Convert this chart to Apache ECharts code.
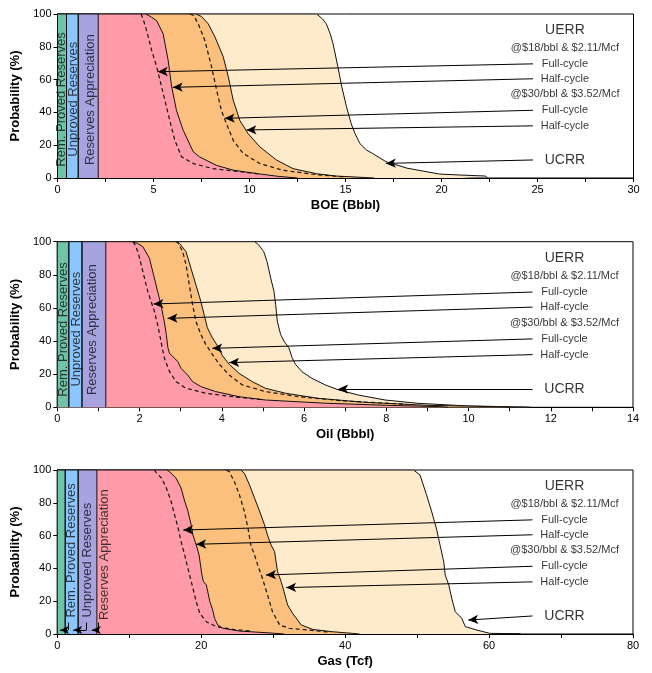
<!DOCTYPE html>
<html><head><meta charset="utf-8">
<script src="https://cdn.jsdelivr.net/npm/echarts@6.0.0/dist/echarts.min.js"></script>
<style>html,body{margin:0;padding:0;background:#fff}#c{width:652px;height:673px}</style>
</head><body><div id="c"></div>
<script>
// ---------- DATA ----------
// Panel 1: BOE (Bbbl)
const boeUCRR = [[0,100],[13.5,100],[13.8,97],[14.0,94],[14.2,88],[14.35,82],[14.6,68],[14.8,56],[15.05,43.5],[15.3,33],[15.5,27],[15.75,21],[16.1,17],[16.4,15],[17.1,10],[18.2,6],[19.9,2.4],[21,1.8],[22.3,1.2],[22.4,0]];
const boeHalf30 = [[0,100],[7.2,100],[7.5,98.5],[7.85,94],[8.2,86],[8.63,74],[8.89,62],[9.15,47.5],[9.5,35],[9.93,27],[10.54,19],[11.4,11],[12.27,5.7],[13.5,2.6],[14.5,1.2],[16,0.3],[16.5,0]];
const boeFull30 = [[6.9,100],[7.1,99],[7.33,94],[7.67,84],[8.02,68],[8.28,54],[8.54,41],[8.8,33],[9.15,23],[9.67,15],[10.54,8.8],[11.75,4.7],[13.5,2],[15,0.6]];
const boeHalf18 = [[0,100],[4.6,100],[4.9,98],[5.16,96],[5.5,88],[5.76,72],[5.94,56],[6.2,41],[6.55,29],[7.07,16],[7.41,12.8],[8.28,7.7],[9.15,4.8],[10.5,2.5],[11.5,1],[12.5,0]];
const boeFull18 = [[4.35,100],[4.46,97],[4.64,90],[4.9,78],[5.16,68],[5.33,60],[5.59,47.5],[5.85,35],[6.11,23],[6.46,13],[7.07,8.8],[8.1,5.7],[9.15,4.3],[10.5,2.5]];
const boeBands = [0, 0.47, 1.08, 2.12];
const boeTicks = {max: 30, step: 2.5, labelEvery: 5};

// Panel 2: Oil (Bbbl)
const oilUCRR = [[0,100],[4.8,100],[4.9,98],[5.02,94],[5.1,88],[5.19,78],[5.27,70],[5.31,62],[5.35,52],[5.43,44],[5.51,40],[5.63,36],[5.71,30],[5.79,26],[5.95,21.5],[6.19,17.5],[6.52,13.5],[6.84,10.5],[7.32,7.4],[7.97,4.4],[8.77,2.4],[10,0.8],[11.4,0.2],[11.5,0]];
const oilHalf30 = [[0,100],[2.9,100],[2.97,99],[3.13,94],[3.25,84],[3.37,74],[3.49,64],[3.57,56],[3.65,48],[3.77,42],[3.9,37],[4.02,31],[4.18,26],[4.42,20.5],[4.74,15.5],[5.06,11.5],[5.55,8.5],[6.35,5.4],[7.5,3],[9,1.2],[10.8,0.3],[11,0]];
const oilFull30 = [[2.88,100],[2.93,99.5],[3.05,94],[3.13,86],[3.21,74],[3.29,62],[3.37,52],[3.49,44],[3.61,38],[3.77,32],[3.94,26],[4.18,19.5],[4.5,13.5],[5.06,9.5],[5.87,6.4],[7,3.8],[8.5,1.8]];
const oilHalf18 = [[0,100],[1.8,100],[1.95,99],[2.08,97],[2.24,90],[2.34,80],[2.44,70],[2.52,62],[2.6,52],[2.65,44],[2.69,36],[2.73,32.6],[2.93,27.6],[3.01,23.5],[3.17,19.5],[3.29,15.5],[3.49,12.5],[3.85,9.5],[4.42,6.4],[5.06,4.4],[6.5,2.5],[8,1.2],[9.3,0.4],[9.5,0]];
const oilFull18 = [[1.85,100],[1.88,99],[1.96,94],[2.04,86],[2.12,78],[2.2,70],[2.28,64],[2.36,58],[2.44,50],[2.52,40],[2.6,30],[2.73,21.5],[2.89,15.5],[3.13,11.5],[3.61,8.5],[4.26,6.4],[5,4.6]];
const oilBands = [0, 0.28, 0.6, 1.18];
const oilTicks = {max: 14, step: 1, labelEvery: 2};

// Panel 3: Gas (Tcf)
const gasUCRR = [[0,100],[49.5,100],[50.4,97],[51.3,85],[52,75],[52.7,64],[53.2,54],[53.7,44],[53.9,36],[54.4,30],[54.8,22],[55.3,13.6],[56.2,9.6],[56.7,4.5],[58.3,2.4],[60.1,0.4],[64.3,0.2],[64.4,0]];
const gasHalf30 = [[0,100],[25.5,100],[26,98],[26.7,91],[27.4,83],[28.1,75],[28.8,66.5],[29.2,60.4],[29.7,54.3],[30.2,50.2],[30.4,44],[30.6,38],[31.1,32],[31.5,26],[32,17.7],[32.7,12.6],[33.9,5.5],[35.5,2.8],[38.2,1.4],[41,0.4],[42,0]];
const gasFull30 = [[23.5,100],[23.9,99],[24.6,93],[25.3,85],[26,74.6],[26.5,64.4],[26.9,54.3],[27.4,48.2],[27.85,42],[28.5,34],[29.2,24],[29.9,13.6],[30.9,5.5],[32.2,3.5],[35.9,2],[38,1]];
const gasHalf18 = [[0,100],[15.2,100],[15.6,99],[16.5,95],[17.2,89],[17.7,81],[18.15,75],[18.6,66.5],[18.85,60.4],[19.3,54.3],[19.7,48.2],[19.9,42],[20.1,36],[20.3,32],[20.7,30],[20.9,26],[21.2,19.7],[21.6,14.6],[21.85,9.6],[22.3,5.5],[23,3.5],[25.3,1.8],[29,0.8],[31,0.2],[31.5,0]];
const gasFull18 = [[13.5,100],[13.8,98],[14.5,95],[15.15,89],[15.8,81],[16.3,72.6],[16.8,64.4],[17.2,56.3],[17.7,48.2],[18.15,40],[18.5,34],[18.85,27.8],[19.3,19.7],[19.8,12.6],[20.7,7.5],[22.1,4.5],[24.4,2.8],[27,1.8]];
const gasBands = [0, 1.1, 2.9, 5.5];
const gasTicks = {max: 80, step: 10, labelEvery: 20};

// Annotation texts (right side) and their probability positions
const noteTexts = ['UERR', '@$18/bbl & $2.11/Mcf', 'Full-cycle', 'Half-cycle', '@$30/bbl & $3.52/Mcf', 'Full-cycle', 'Half-cycle', 'UCRR'];
const noteY = [90, 79.2, 69.6, 60.5, 51.1, 41.3, 31.8, 11];
const noteSizes = [14, 11, 11, 11, 11, 11, 11, 14];
// arrows: [label y, tip x, tip y] for Full18, Half18, Full30, Half30, UCRR
const boeArrows = [[69.6,5.22,64.8],[60.5,6.0,55.3],[41.3,8.71,36.4],[31.8,9.84,29.3],[11,17.1,8.9]];
const oilArrows = [[69.6,2.34,62.4],[60.5,2.68,53.7],[41.3,3.77,35.6],[31.8,4.18,27],[11,6.83,11]];
const gasArrows = [[69.6,17.5,63.4],[60.5,19.3,54.7],[41.3,29,36],[31.8,31.8,28.3],[11,57.1,8.5]];

const bandNames = ['Rem. Proved Reserves', 'Unproved Reserves', 'Reserves Appreciation'];
const boeBandText = [[0.23,6.9],[0.81,13],[1.72,7.9]];
const oilBandText = [[0.16,6.4],[0.47,12.5],[0.85,7.4]];
const gasBandText = [[1.95,10],[4.2,10],[6.5,8.5]];
// gas reserve pointers: [tail x, tip x]
const gasBandArrows = [[1.5,0.37],[4.0,2.2],[5.7,4.8]];

const xNames = ['BOE (Bbbl)', 'Oil (Bbbl)', 'Gas (Tcf)'];
const yName = 'Probability (%)';

// ---------- STYLE ----------
const C = {teal:'#6fc3a6', blue:'#8cc6ff', lav:'#a7a2e0', pink:'#ff9ba8', orange:'#fcc07e', cream:'#feebcc'};
const FONT = 'Liberation Sans, Arial, sans-serif';
const grids = [
  {left:57.5, right:18.5, top:14, height:164},
  {left:57.3, right:19, top:241.7, height:165.6},
  {left:57.3, right:19, top:470, height:164}
];

const panels = [
  {ucrr:boeUCRR, h30:boeHalf30, f30:boeFull30, h18:boeHalf18, f18:boeFull18, bands:boeBands, ticks:boeTicks, arrows:boeArrows, bandText:boeBandText},
  {ucrr:oilUCRR, h30:oilHalf30, f30:oilFull30, h18:oilHalf18, f18:oilFull18, bands:oilBands, ticks:oilTicks, arrows:oilArrows, bandText:oilBandText},
  {ucrr:gasUCRR, h30:gasHalf30, f30:gasFull30, h18:gasHalf18, f18:gasFull18, bands:gasBands, ticks:gasTicks, arrows:gasArrows, bandText:gasBandText}
];

const xAxes = [], yAxes = [], series = [];
panels.forEach((p, i) => {
  const t = p.ticks;
  xAxes.push({
    type:'value', gridIndex:i, min:0, max:t.max, interval:t.step,
    name:xNames[i], nameLocation:'middle', nameGap:21,
    nameTextStyle:{fontFamily:FONT, fontWeight:'bold', fontSize:13, color:'#000'},
    axisLine:{show:true, onZero:false, lineStyle:{color:'#000', width:1}},
    axisTick:{show:true, length:4, lineStyle:{color:'#000'}},
    axisLabel:{fontFamily:FONT, fontSize:11, color:'#000', margin:6,
      formatter:v => (Math.abs(v / t.labelEvery - Math.round(v / t.labelEvery)) < 1e-6 ? String(v) : '')},
    splitLine:{show:false}
  });
  yAxes.push({
    type:'value', gridIndex:i, min:0, max:100, interval:20,
    name:yName, nameLocation:'middle', nameGap:30,
    nameTextStyle:{fontFamily:FONT, fontWeight:'bold', fontSize:13, color:'#000'},
    axisLine:{show:true, lineStyle:{color:'#000', width:1}},
    axisTick:{show:true, length:4, lineStyle:{color:'#000'}},
    axisLabel:{fontFamily:FONT, fontSize:11, color:'#000', margin:6},
    splitLine:{show:false}
  });
  const base = {xAxisIndex:i, yAxisIndex:i, symbol:'none', animation:false, silent:true};
  const area = (data, color, z) => Object.assign({}, base, {type:'line', data, z,
    lineStyle:{color:'#111', width:1}, areaStyle:{color, opacity:1}});
  series.push(area(p.ucrr, C.cream, 1));
  series.push(area(p.h30, C.orange, 2));
  series.push(area(p.h18, C.pink, 3));
  const bc = [C.teal, C.blue, C.lav];
  for (let k = 0; k < 3; k++) {
    const x0 = p.bands[k], x1 = p.bands[k+1];
    series.push(Object.assign({}, base, {type:'line', z:4,
      data:[[x0,0],[x0,100],[x1,100],[x1,0]],
      lineStyle:{color:'#111', width:1}, areaStyle:{color:bc[k], opacity:1}}));
  }
  const dashed = data => Object.assign({}, base, {type:'line', data, z:5,
    lineStyle:{color:'#111', width:1.2, type:[4,3]}});
  series.push(dashed(p.f30));
  series.push(dashed(p.f18));

  // right-side annotation texts + arrows
  const xr = t.max * 0.881;
  const xs = t.max * 0.8255;
  const texts = noteTexts.map((s, k) => ({name:s, value:[xr, noteY[k]],
    label:{fontSize:noteSizes[k]}}));
  const arrowLines = p.arrows.map(a => [{coord:[xs, a[0]], symbol:'none'}, {coord:[a[1], a[2]], symbol:'arrow', symbolSize:[7,10]}]);
  if (i === 2) {
    gasBandArrows.forEach(a => {
      arrowLines.push([{coord:[a[0], 2.4], symbol:'none'}, {coord:[a[1], 2.4], symbol:'arrow', symbolSize:[6,9]}]);
      arrowLines.push([{coord:[a[0], 2.4], symbol:'none'}, {coord:[a[0], 7], symbol:'none'}]);
    });
  }
  series.push(Object.assign({}, base, {type:'scatter', z:7, symbol:'circle', symbolSize:1,
    itemStyle:{color:'rgba(0,0,0,0)'},
    label:{show:true, position:'inside', formatter:d => d.name, color:'#000', fontFamily:FONT},
    data:texts,
    markLine:{silent:true, animation:false, symbol:['none','arrow'], label:{show:false},
      lineStyle:{color:'#000', width:1, type:'solid'}, data:arrowLines}
  }));
  // rotated reserve labels
  series.push(Object.assign({}, base, {type:'scatter', z:8, symbol:'circle', symbolSize:1,
    itemStyle:{color:'rgba(0,0,0,0)'},
    label:{show:true, position:'inside', rotate:90, align:'left', verticalAlign:'middle',
      formatter:d => d.name, color:'#111', fontFamily:FONT, fontSize:13},
    data:p.bandText.map((b, k) => ({name:bandNames[k], value:b}))
  }));
});

const chart = echarts.init(document.getElementById('c'), null, {renderer:'canvas'});
chart.setOption({
  animation:false,
  backgroundColor:'#fff',
  grid:grids.map(g => Object.assign({show:true, borderColor:'#000', borderWidth:1, backgroundColor:'transparent', containLabel:false}, g)),
  xAxis:xAxes, yAxis:yAxes, series
});
</script></body></html>
